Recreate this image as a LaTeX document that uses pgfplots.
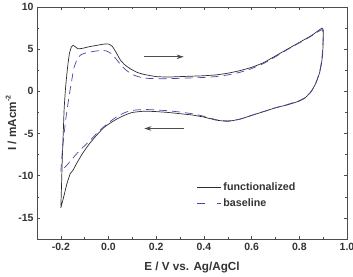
\documentclass[border=0pt]{standalone}
\usepackage{pgfplots}
\pgfplotsset{compat=1.18}
\usetikzlibrary{arrows.meta}
\usepackage{fontspec}
\setmainfont{Liberation Sans}
\definecolor{solidc}{RGB}{45,45,45}
\definecolor{dashc}{RGB}{70,70,170}
\begin{document}
\begin{tikzpicture}
\useasboundingbox (-37pt,-37pt) rectangle (316pt,239pt);
\begin{axis}[
  at={(0,0)}, anchor=south west,
  scale only axis, width=310pt, height=232pt,
  xmin=-0.3, xmax=1.0, ymin=-17.5, ymax=10,
  xtick={-0.2,0,0.2,0.4,0.6,0.8,1.0},
  ytick={-15,-10,-5,0,5,10},
  minor x tick num=1, minor y tick num=1,
  tick align=inside,
  major tick length=3.5pt, minor tick length=2.5pt,
  axis line style={black!70, line width=0.6pt},
  tick style={black!70, line width=0.5pt},
  /pgf/number format/assume math mode=true,
  xticklabel style={yshift=-1pt, /pgf/number format/.cd, fixed, fixed zerofill, precision=1},
  yticklabel style={/pgf/number format/.cd, fixed, precision=0},
  ticklabel style={font=\fontsize{10.5}{12}\selectfont\bfseries, text=black!80},
  xlabel={E / V vs. Ag/AgCl},
  ylabel={I / mAcm\raisebox{0.9ex}{\fontsize{7}{8}\selectfont -2}},
  label style={font=\fontsize{11.7}{14}\selectfont\bfseries, text=black!80},
  xlabel style={yshift=-4pt},
  ylabel style={yshift=-5pt},
  legend style={draw=none, fill=none, at={(0.505,0.187)}, anchor=west,
    font=\fontsize{10.7}{12}\selectfont\bfseries, text=black!80,
    row sep=3pt},
  legend cell align=left,
  legend image code/.code={\draw[#1] (0pt,0pt) -- (24pt,0pt);},
]
\addplot[solidc, line width=0.7pt, smooth, tension=0.3] coordinates {
(-0.200,-13.8) (-0.197,-11.0) (-0.194,-8.0) (-0.190,-5.0) (-0.186,-2.0)
(-0.180,0.5) (-0.172,2.8) (-0.164,4.5) (-0.156,5.25) (-0.148,5.45)
(-0.140,5.3) (-0.128,5.05) (-0.110,5.1) (-0.08,5.3) (-0.05,5.45)
(-0.02,5.6) (0.000,5.6) (0.015,5.35) (0.030,4.7) (0.050,3.7)
(0.070,3.1) (0.090,2.7) (0.120,2.25) (0.150,2.0) (0.200,1.75)
(0.250,1.7) (0.300,1.75) (0.350,1.8) (0.400,1.85) (0.450,1.95)
(0.500,2.15) (0.550,2.45) (0.600,2.85) (0.650,3.4) (0.700,4.2)
(0.750,5.0) (0.800,5.8) (0.850,6.6) (0.880,7.2) (0.895,7.5)
(0.900,7.3) (0.900,6.0) (0.898,4.5) (0.893,3.3) (0.885,2.2)
(0.870,1.0) (0.850,0.0) (0.825,-0.75) (0.800,-1.15) (0.750,-1.6)
(0.700,-1.95) (0.650,-2.4) (0.600,-2.85) (0.550,-3.3) (0.500,-3.55)
(0.450,-3.4) (0.400,-3.05) (0.350,-2.8) (0.300,-2.65) (0.250,-2.5)
(0.200,-2.4) (0.150,-2.35) (0.100,-2.5) (0.070,-2.8) (0.040,-3.2)
(0.010,-3.7) (-0.020,-4.3) (-0.050,-5.2) (-0.080,-6.2) (-0.110,-7.4)
(-0.135,-8.6) (-0.150,-9.4) (-0.160,-9.7) (-0.175,-11.0) (-0.188,-12.5)
(-0.200,-13.8)
};
\addlegendentry{functionalized}
\addplot[dashc, line width=0.7pt, dash pattern=on 8pt off 5pt, smooth, tension=0.3,
  legend image code/.code={\draw[dashc, line width=0.7pt, dash pattern=on 8pt off 12pt on 4pt off 10pt] (0pt,0pt) -- (24pt,0pt);}] coordinates {
(-0.200,-9.5) (-0.195,-7.5) (-0.188,-5.5) (-0.178,-3.0) (-0.165,-0.5)
(-0.155,1.2) (-0.145,2.8) (-0.130,3.9) (-0.115,4.35) (-0.090,4.6)
(-0.060,4.75) (-0.030,4.85) (-0.010,4.8) (0.010,4.5) (0.030,3.9)
(0.050,3.2) (0.070,2.6) (0.100,2.0) (0.130,1.7) (0.160,1.55)
(0.200,1.5) (0.250,1.5) (0.300,1.55) (0.350,1.6) (0.400,1.65)
(0.450,1.75) (0.500,1.95) (0.550,2.25) (0.600,2.7) (0.650,3.3)
(0.700,4.1) (0.750,4.95) (0.800,5.75) (0.850,6.55) (0.880,7.1)
(0.895,7.3) (0.900,7.0) (0.899,5.5) (0.895,4.0) (0.888,2.7)
(0.875,1.4) (0.855,0.2) (0.830,-0.65) (0.800,-1.1) (0.750,-1.55)
(0.700,-1.95) (0.650,-2.4) (0.600,-2.85) (0.550,-3.3) (0.500,-3.5)
(0.450,-3.35) (0.400,-2.95) (0.350,-2.65) (0.300,-2.45) (0.250,-2.3)
(0.200,-2.2) (0.150,-2.15) (0.100,-2.25) (0.070,-2.5) (0.040,-2.9)
(0.010,-3.5) (-0.020,-4.2) (-0.050,-5.0) (-0.080,-5.9) (-0.110,-6.7)
(-0.140,-7.6) (-0.170,-8.6) (-0.200,-9.5)
};
\addlegendentry{baseline}
\draw[-{Stealth[length=7pt,width=4.5pt]}, black!70, line width=0.6pt] (axis cs:0.150,4.1) -- (axis cs:0.315,4.1);
\draw[-{Stealth[length=7pt,width=4.5pt]}, black!70, line width=0.6pt] (axis cs:0.318,-4.4) -- (axis cs:0.150,-4.4);
\end{axis}
\end{tikzpicture}
\end{document}
